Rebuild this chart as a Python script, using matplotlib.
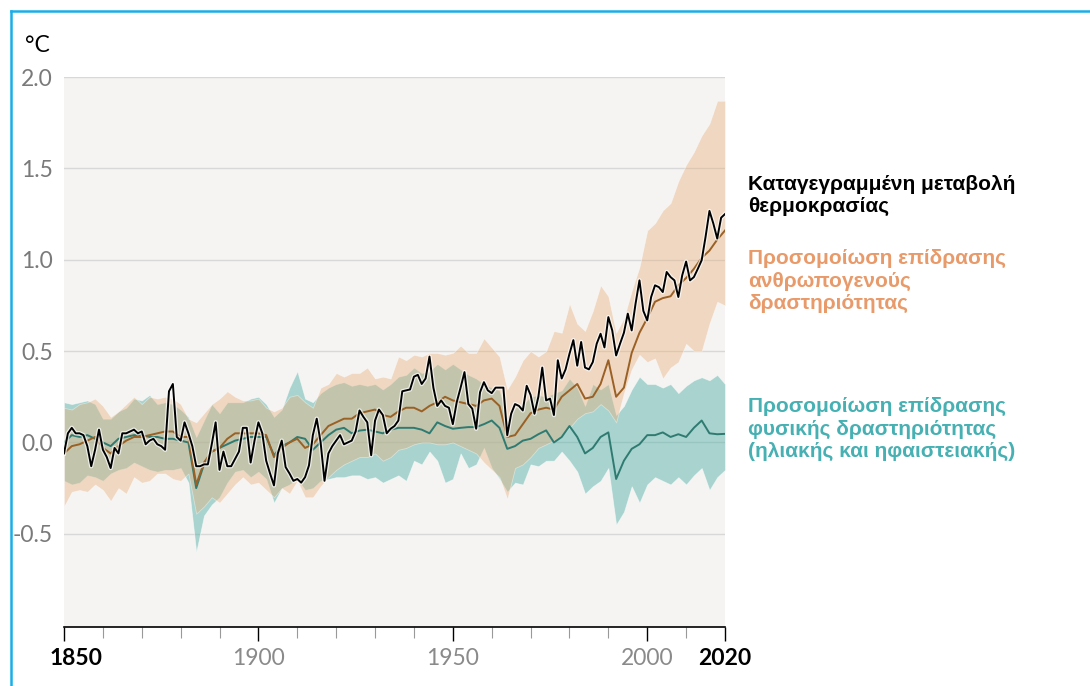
import numpy as np
import matplotlib
matplotlib.use("Agg")
import matplotlib.pyplot as plt
import matplotlib.patheffects as pe
from matplotlib.lines import Line2D

# observed annual temperature change (deg C, relative to 1850-1900)
obs_years = list(range(1850, 2021))
observed = [
    -0.06, 0.05, 0.08, 0.05, 0.05, 0.04, -0.02, -0.13, -0.04, 0.07,
    -0.04, -0.08, -0.14, -0.03, -0.06, 0.05, 0.05, 0.06, 0.07, 0.05,
    0.06, -0.01, 0.01, 0.02, -0.01, -0.02, -0.04, 0.28, 0.32, 0.03,
    0.01, 0.11, 0.05, -0.02, -0.13, -0.13, -0.12, -0.12, -0.01, 0.11,
    -0.15, -0.05, -0.13, -0.13, -0.09, -0.05, 0.08, 0.08, -0.11, 0.01,
    0.11, 0.05, -0.10, -0.17, -0.235, -0.06, 0.01, -0.135, -0.17, -0.21,
    -0.20, -0.22, -0.19, -0.126, 0.04, 0.13, 0.00, -0.21, -0.06, -0.02,
    0.01, 0.04, -0.01, 0.00, 0.01, 0.06, 0.175, 0.14, 0.11, -0.07,
    0.12, 0.18, 0.15, 0.05, 0.075, 0.09, 0.12, 0.28, 0.285, 0.29,
    0.36, 0.37, 0.32, 0.35, 0.47, 0.30, 0.20, 0.23, 0.20, 0.19,
    0.10, 0.22, 0.30, 0.385, 0.21, 0.185, 0.075, 0.275, 0.33, 0.285,
    0.27, 0.30, 0.30, 0.30, 0.04, 0.157, 0.21, 0.20, 0.175, 0.31,
    0.26, 0.157, 0.25, 0.41, 0.23, 0.24, 0.15, 0.45, 0.35, 0.40,
    0.485, 0.56, 0.42, 0.55, 0.41, 0.40, 0.44, 0.54, 0.595, 0.52,
    0.686, 0.613, 0.476, 0.54, 0.60, 0.705, 0.613, 0.76, 0.887, 0.72,
    0.668, 0.796, 0.86, 0.85, 0.823, 0.933, 0.905, 0.887, 0.796, 0.915,
    0.99, 0.887, 0.905, 0.95, 0.997, 1.125, 1.267, 1.198, 1.116, 1.23,
    1.25,
]

# simulations, every second year
sim_years = list(range(1850, 2021, 2))
human_mean = [
    -0.06, -0.02, -0.01, 0.01, 0.03, -0.03, -0.06, -0.02, 0.01, 0.03,
    0.03, 0.04, 0.05, 0.06, 0.06, 0.03, 0.03, -0.23, -0.11, -0.05,
    -0.03, 0.02, 0.05, 0.05, 0.05, 0.05, 0.04, -0.08, -0.03, 0.00,
    0.02, -0.03, -0.01, 0.04, 0.09, 0.11, 0.13, 0.13, 0.16, 0.17,
    0.18, 0.15, 0.14, 0.17, 0.19, 0.19, 0.17, 0.20, 0.22, 0.25,
    0.23, 0.22, 0.21, 0.20, 0.23, 0.24, 0.20, 0.03, 0.04, 0.10,
    0.16, 0.18, 0.19, 0.18, 0.25, 0.285, 0.32, 0.24, 0.25, 0.32,
    0.45, 0.25, 0.30, 0.49, 0.60, 0.68, 0.77, 0.79, 0.80, 0.86,
    0.90, 0.95, 1.01, 1.05, 1.11, 1.16,
]
human_high = [
    0.19, 0.18, 0.21, 0.22, 0.24, 0.20, 0.14, 0.17, 0.21, 0.25,
    0.21, 0.25, 0.24, 0.25, 0.24, 0.21, 0.13, 0.11, 0.16, 0.21,
    0.24, 0.28, 0.25, 0.23, 0.23, 0.24, 0.19, 0.17, 0.19, 0.25,
    0.26, 0.22, 0.19, 0.30, 0.32, 0.38, 0.36, 0.38, 0.38, 0.41,
    0.35, 0.36, 0.35, 0.47, 0.45, 0.48, 0.47, 0.49, 0.49, 0.48,
    0.49, 0.53, 0.49, 0.49, 0.57, 0.52, 0.47, 0.29, 0.36, 0.45,
    0.50, 0.47, 0.50, 0.61, 0.60, 0.76, 0.65, 0.61, 0.72, 0.86,
    0.80, 0.60, 0.68, 0.83, 0.96, 1.16, 1.20, 1.27, 1.31, 1.43,
    1.52, 1.59, 1.68, 1.745, 1.87, 1.87,
]
human_low = [
    -0.35, -0.27, -0.26, -0.27, -0.23, -0.26, -0.32, -0.25, -0.28, -0.19,
    -0.22, -0.21, -0.17, -0.17, -0.20, -0.21, -0.17, -0.39, -0.35, -0.30,
    -0.33, -0.28, -0.23, -0.19, -0.23, -0.22, -0.26, -0.30, -0.25, -0.28,
    -0.21, -0.30, -0.30, -0.24, -0.19, -0.15, -0.12, -0.10, -0.08, -0.08,
    -0.06, -0.10, -0.08, -0.04, -0.03, -0.01, 0.00, 0.00, -0.01, -0.01,
    0.00, -0.02, -0.04, -0.06, -0.11, -0.15, -0.19, -0.31, -0.14, -0.12,
    -0.08, -0.03, -0.01, 0.01, 0.04, 0.08, 0.13, 0.16, 0.17, 0.21,
    0.175, 0.11, 0.27, 0.40, 0.48, 0.44, 0.46, 0.35, 0.41, 0.44,
    0.54, 0.50, 0.50, 0.65, 0.77, 0.75,
]
natural_mean = [
    0.00, 0.04, 0.03, 0.04, 0.02, 0.00, -0.02, 0.02, 0.03, 0.04,
    0.04, 0.03, 0.03, 0.02, 0.02, 0.01, 0.00, -0.25, -0.12, -0.05,
    -0.03, -0.01, 0.01, 0.02, 0.03, 0.03, 0.03, -0.07, -0.02, 0.00,
    0.03, 0.02, -0.04, 0.00, 0.04, 0.07, 0.08, 0.05, 0.065, 0.07,
    0.06, 0.05, 0.07, 0.08, 0.08, 0.08, 0.07, 0.05, 0.11, 0.09,
    0.075, 0.08, 0.084, 0.084, 0.10, 0.12, 0.08, -0.035, -0.02, 0.01,
    0.02, 0.045, 0.066, 0.00, 0.03, 0.09, 0.03, -0.06, -0.03, 0.03,
    0.055, -0.20, -0.10, -0.035, -0.01, 0.04, 0.04, 0.055, 0.03, 0.045,
    0.03, 0.08, 0.12, 0.05, 0.045, 0.047,
]
natural_high = [
    0.22, 0.21, 0.22, 0.23, 0.21, 0.13, 0.13, 0.17, 0.19, 0.24,
    0.23, 0.26, 0.21, 0.22, 0.21, 0.18, 0.14, 0.03, 0.12, 0.21,
    0.16, 0.22, 0.22, 0.22, 0.24, 0.25, 0.21, 0.14, 0.18, 0.30,
    0.39, 0.24, 0.22, 0.27, 0.30, 0.32, 0.33, 0.31, 0.32, 0.31,
    0.32, 0.29, 0.32, 0.36, 0.37, 0.41, 0.38, 0.39, 0.43, 0.40,
    0.43, 0.40, 0.37, 0.35, 0.32, 0.30, 0.285, 0.14, 0.19, 0.21,
    0.25, 0.26, 0.25, 0.27, 0.285, 0.35, 0.30, 0.20, 0.32, 0.29,
    0.32, 0.15, 0.20, 0.29, 0.36, 0.32, 0.32, 0.30, 0.32, 0.27,
    0.31, 0.34, 0.357, 0.34, 0.37, 0.32,
]
natural_low = [
    -0.21, -0.23, -0.22, -0.18, -0.19, -0.21, -0.17, -0.15, -0.14, -0.11,
    -0.13, -0.15, -0.16, -0.15, -0.15, -0.14, -0.22, -0.60, -0.40, -0.34,
    -0.30, -0.22, -0.16, -0.15, -0.19, -0.16, -0.20, -0.33, -0.25, -0.23,
    -0.20, -0.26, -0.25, -0.21, -0.20, -0.19, -0.19, -0.18, -0.18, -0.20,
    -0.19, -0.22, -0.20, -0.18, -0.21, -0.10, -0.12, -0.05, -0.10, -0.22,
    -0.20, -0.06, -0.14, -0.12, -0.03, -0.14, -0.20, -0.27, -0.22, -0.23,
    -0.12, -0.13, -0.10, -0.10, -0.05, -0.10, -0.16, -0.28, -0.24, -0.21,
    -0.14, -0.45, -0.38, -0.24, -0.33, -0.23, -0.19, -0.21, -0.23, -0.19,
    -0.23, -0.18, -0.14, -0.26, -0.19, -0.15,
]

label_obs = "Καταγεγραμμένη μεταβολή\nθερμοκρασίας"
label_human = "Προσομοίωση επίδρασης\nανθρωπογενούς\nδραστηριότητας"
label_natural = "Προσομοίωση επίδρασης\nφυσικής δραστηριότητας\n(ηλιακής και ηφαιστειακής)"

bg = "#f5f4f2"
teal_fill = "#5cb3ab"
peach_fill = "#e8b07e"
human_line = "#9a6024"
natural_line = "#2f7b71"

fig = plt.figure(figsize=(10.9, 6.86), dpi=100)
ax = fig.add_axes([64 / 1090, 1 - 627 / 686, 661 / 1090, 550 / 686])
ax.set_facecolor(bg)

ax.fill_between(sim_years, natural_low, natural_high, color=teal_fill, alpha=0.5,
                edgecolor="white", linewidth=0.6, zorder=2)
ax.fill_between(sim_years, human_low, human_high, color=peach_fill, alpha=0.42,
                edgecolor="white", linewidth=0.6, zorder=3)

ax.plot(sim_years, natural_mean, color=natural_line, lw=1.4, zorder=4)
ax.plot(sim_years, human_mean, color=human_line, lw=1.4, zorder=5)
ax.plot(obs_years, observed, color="black", lw=1.4, zorder=6,
        path_effects=[pe.Stroke(linewidth=3.2, foreground="white", alpha=0.7), pe.Normal()])

ax.set_xlim(1850, 2020)
ax.set_ylim(-1.01, 2.0)

ax.set_yticks([-0.5, 0.0, 0.5, 1.0, 1.5, 2.0])
ax.set_yticklabels(["-0.5", "0.0", "0.5", "1.0", "1.5", "2.0"])
ax.grid(axis="y", color="#d8d8d8", lw=1, zorder=1)
ax.tick_params(axis="y", length=0, pad=8, labelsize=16.5, labelcolor="#7a7a7a")
for t in ax.get_yticklabels():
    t.set_fontfamily("Lato")

ax.set_xticks([1850, 1900, 1950, 2000, 2020])
ax.set_xticks(range(1860, 2020, 10), minor=True)
ax.tick_params(axis="x", which="major", length=10, width=1, color="black", pad=5)
ax.tick_params(axis="x", which="minor", length=8, width=0.8, color="#999999")
# the 1850 label is drawn separately, slightly right of its tick
ax.set_xticklabels(["", "1900", "1950", "2000", "2020"], fontfamily="Lato", fontsize=16.5)
for t, bold in zip(ax.get_xticklabels(), [True, False, False, False, True]):
    if bold:
        t.set_fontweight("bold")
        t.set_color("black")
    else:
        t.set_color("#8a8a8a")
ax.annotate("1850", xy=(1850, 0), xycoords=("data", "axes fraction"),
            xytext=(9, -15), textcoords="offset points", ha="center", va="top",
            fontfamily="Lato", fontsize=16.5, fontweight="bold", color="black")

for s in ["top", "right", "left"]:
    ax.spines[s].set_visible(False)
ax.spines["bottom"].set_color("black")
ax.spines["bottom"].set_linewidth(1.2)

fig.text(25 / 1090, 1 - 45 / 686, "°C", fontsize=16.5, fontfamily="Lato", va="center", ha="left")

fig.text(748 / 1090, 1 - 195.5 / 686, label_obs, fontsize=15, fontweight="bold",
         fontfamily="Liberation Sans", color="black", va="center", ha="left", linespacing=1.2)
fig.text(748 / 1090, 1 - 281 / 686, label_human, fontsize=15, fontweight="bold",
         fontfamily="Liberation Sans", color="#e89a6a", va="center", ha="left", linespacing=1.2)
fig.text(748 / 1090, 1 - 429 / 686, label_natural, fontsize=15, fontweight="bold",
         fontfamily="Liberation Sans", color="#47b0b3", va="center", ha="left", linespacing=1.2)

# cyan frame on the left and top
fig.add_artist(Line2D([10.5 / 1090, 10.5 / 1090], [0, 1 - 10.5 / 686], color="#1aaee8", lw=1.8))
fig.add_artist(Line2D([10.5 / 1090, 1], [1 - 10.5 / 686, 1 - 10.5 / 686], color="#1aaee8", lw=1.8))

plt.savefig("out.png", dpi=100)
